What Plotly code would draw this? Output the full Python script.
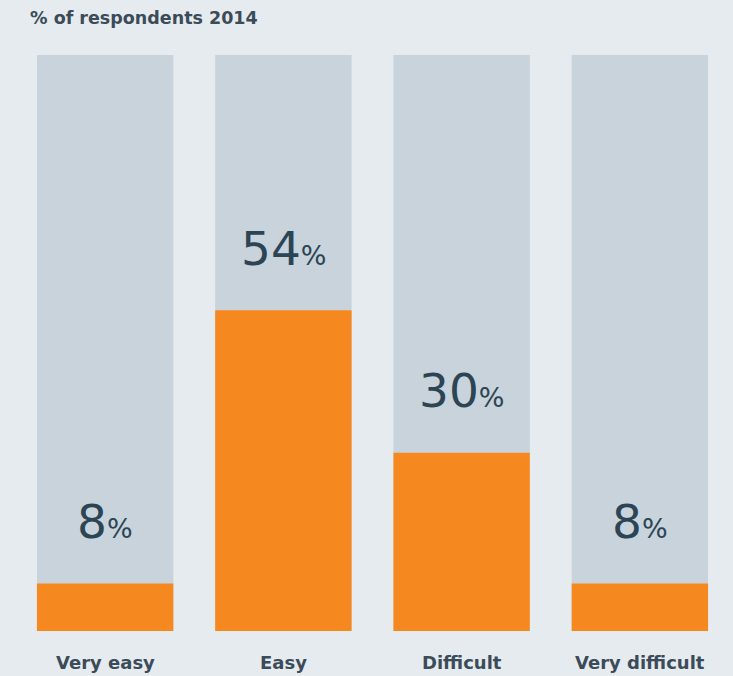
import plotly.graph_objects as go

categories = ["Very easy", "Easy", "Difficult", "Very difficult"]
values = [8, 54, 30, 8]
track = [97, 97, 97, 97]
title_text = "% of respondents 2014"

BG = "#e6ebef"
GREY = "#c8d3db"
ORANGE = "#f5891f"
DARK = "#2c4555"
LABEL = "#3b4b58"

x = list(range(len(categories)))

fig = go.Figure()
fig.add_trace(go.Bar(x=x, y=track, marker=dict(color=GREY, line=dict(width=0)),
                     width=0.765, hoverinfo="skip", showlegend=False))
fig.add_trace(go.Bar(x=x, y=values, marker=dict(color=ORANGE, line=dict(width=0)),
                     width=0.765, showlegend=False))

annotations = []
for xi, v in zip(x, values):
    annotations.append(dict(
        x=xi, y=v, xref="x", yref="y", showarrow=False,
        text=f"{v}<span style='font-size:27px'>%</span>",
        font=dict(family="DejaVu Sans", size=47, color=DARK),
        yanchor="middle", yshift=62,
    ))
for xi, c in zip(x, categories):
    annotations.append(dict(
        x=xi, y=0, xref="x", yref="y", showarrow=False,
        text=f"<b>{c}</b>",
        font=dict(family="DejaVu Sans", size=18, color=LABEL),
        yanchor="middle", yshift=-31,
    ))

fig.update_layout(
    width=733, height=676,
    paper_bgcolor=BG, plot_bgcolor=BG,
    barmode="overlay",
    margin=dict(l=16, r=4, t=55, b=45),
    xaxis=dict(range=[-0.5, 3.5], showticklabels=False, showgrid=False,
               zeroline=False, fixedrange=True),
    yaxis=dict(range=[0, 97], showticklabels=False, showgrid=False,
               zeroline=False, fixedrange=True),
    title=dict(text=f"<b>{title_text}</b>", xref="container", yref="container",
               x=30/733, xanchor="left", y=1-18/676, yanchor="middle",
               font=dict(family="DejaVu Sans", size=17.5, color=LABEL)),
    annotations=annotations,
)

fig.write_html("out.html")
